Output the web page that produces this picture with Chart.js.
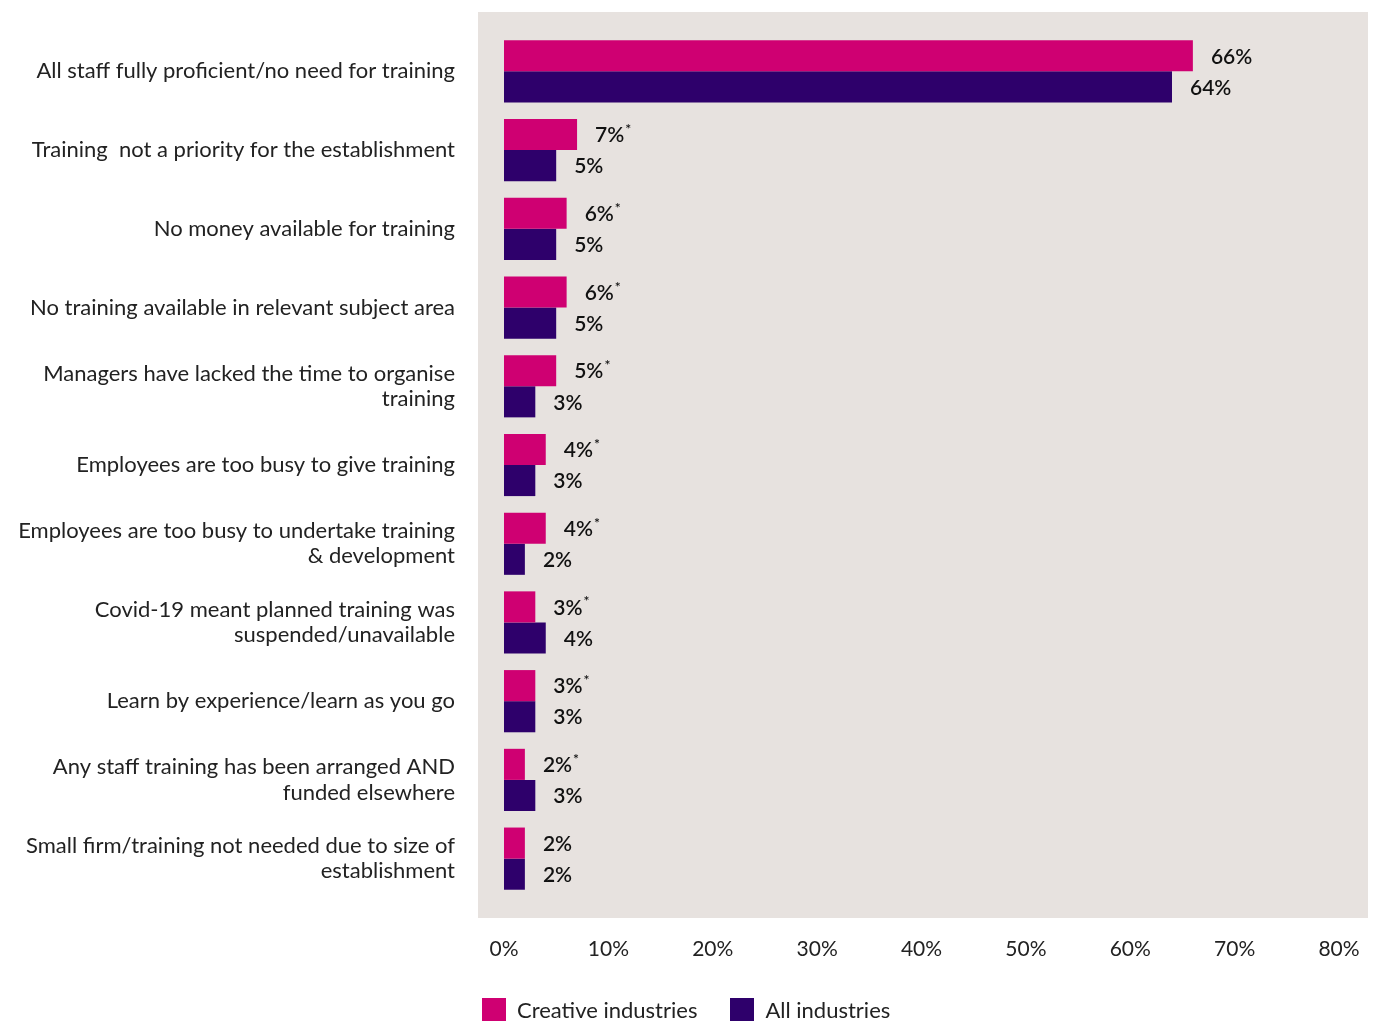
<!DOCTYPE html>
<html>
<head>
<meta charset="utf-8">
<script src="https://cdn.jsdelivr.net/npm/chart.js@4.4.1/dist/chart.umd.min.js"></script>
<style>
  html, body { margin: 0; padding: 0; background: #fff; }
  #wrap { position: relative; width: 1376px; height: 1021px; }
  #legend { position: absolute; left: 482px; top: 996px; display: flex; font-family: Lato, sans-serif; font-size: 22px; color: #222; }
  .item { display: flex; align-items: center; margin-right: 33px; }
  .swatch { width: 24px; height: 24px; margin-right: 11px; }
</style>
</head>
<body>
<div id="wrap">
  <canvas id="chart" width="1376" height="1021"></canvas>
  <div id="legend"></div>
</div>
<script>
// Reasons for not providing training
const categories = [
    'All staff fully proficient/no need for training',
    'Training  not a priority for the establishment',
    'No money available for training',
    'No training available in relevant subject area',
    ['Managers have lacked the time to organise', 'training'],
    'Employees are too busy to give training',
    ['Employees are too busy to undertake training', '& development'],
    ['Covid-19 meant planned training was', 'suspended/unavailable'],
    'Learn by experience/learn as you go',
    ['Any staff training has been arranged AND', 'funded elsewhere'],
    ['Small firm/training not needed due to size of', 'establishment']
];
const creativeValues = [66, 7, 6, 6, 5, 4, 4, 3, 3, 2, 2];
const allValues = [64, 5, 5, 5, 3, 3, 2, 4, 3, 3, 2];
// asterisk marks on the creative industries labels
const creativeStar = [false, true, true, true, true, true, true, true, true, true, false];
const xTicks = [0, 10, 20, 30, 40, 50, 60, 70, 80];

const PINK = '#cf0072';
const PURPLE = '#2e006b';
const PANEL = '#e7e2df';
const FONT = 'Lato, sans-serif';

// light grey panel behind the bars
const panelPlugin = {
    id: 'panel',
    beforeDraw(chart) {
        const { ctx, chartArea: a } = chart;
        ctx.save();
        ctx.fillStyle = PANEL;
        ctx.fillRect(a.left - 26, a.top - 20, a.right - a.left + 55, a.bottom - a.top + 40);
        ctx.restore();
    }
};

// value labels at the end of each bar
const valueLabels = {
    id: 'valueLabels',
    afterDatasetsDraw(chart) {
        const ctx = chart.ctx;
        ctx.save();
        ctx.fillStyle = '#111';
        ctx.textBaseline = 'middle';
        chart.data.datasets.forEach((ds, di) => {
            chart.getDatasetMeta(di).data.forEach((bar, i) => {
                const text = ds.data[i] + '%';
                const x = bar.x + 18;
                ctx.font = '600 21px ' + FONT;
                ctx.textAlign = 'left';
                ctx.fillText(text, x, bar.y + 1);
                if (ds.stars && ds.stars[i]) {
                    const w = ctx.measureText(text).width;
                    ctx.font = '600 14px ' + FONT;
                    ctx.fillText('*', x + w + 1, bar.y - 5);
                }
            });
        });
        ctx.restore();
    }
};

const ctx = document.getElementById('chart').getContext('2d');
const chart = new Chart(ctx, {
    type: 'bar',
    data: {
        labels: categories,
        datasets: [
            {
                label: 'Creative industries',
                data: creativeValues,
                stars: creativeStar,
                backgroundColor: PINK,
                categoryPercentage: 0.79,
                barPercentage: 1.0
            },
            {
                label: 'All industries',
                data: allValues,
                backgroundColor: PURPLE,
                categoryPercentage: 0.79,
                barPercentage: 1.0
            }
        ]
    },
    options: {
        indexAxis: 'y',
        responsive: false,
        animation: false,
        layout: { padding: { top: 32, right: 37, left: 0, bottom: 0 } },
        plugins: {
            legend: { display: false },
            tooltip: { enabled: false }
        },
        scales: {
            x: {
                min: 0,
                max: 80,
                afterBuildTicks(scale) {
                    scale.ticks = xTicks.map(v => ({ value: v }));
                },
                afterFit(scale) {
                    scale.height = 123;
                    scale.paddingLeft = 0;
                    scale.paddingRight = 0;
                },
                grid: { display: false, drawTicks: false },
                border: { display: false },
                ticks: {
                    padding: 39,
                    color: '#222',
                    font: { family: FONT, size: 21 },
                    callback: v => v + '%'
                }
            },
            y: {
                afterFit(scale) {
                    scale.width = 504;
                    scale.paddingTop = 0;
                    scale.paddingBottom = 0;
                },
                grid: { display: false, drawTicks: false },
                border: { display: false },
                ticks: {
                    padding: 49,
                    color: '#222',
                    font: { family: FONT, size: 22, lineHeight: 1.15 }
                }
            }
        }
    },
    plugins: [panelPlugin, valueLabels]
});

// legend
const legend = document.getElementById('legend');
chart.data.datasets.forEach(ds => {
    const item = document.createElement('div');
    item.className = 'item';
    item.innerHTML = `<span class="swatch" style="background:${ds.backgroundColor}"></span>${ds.label}`;
    legend.appendChild(item);
});
</script>
</body>
</html>
